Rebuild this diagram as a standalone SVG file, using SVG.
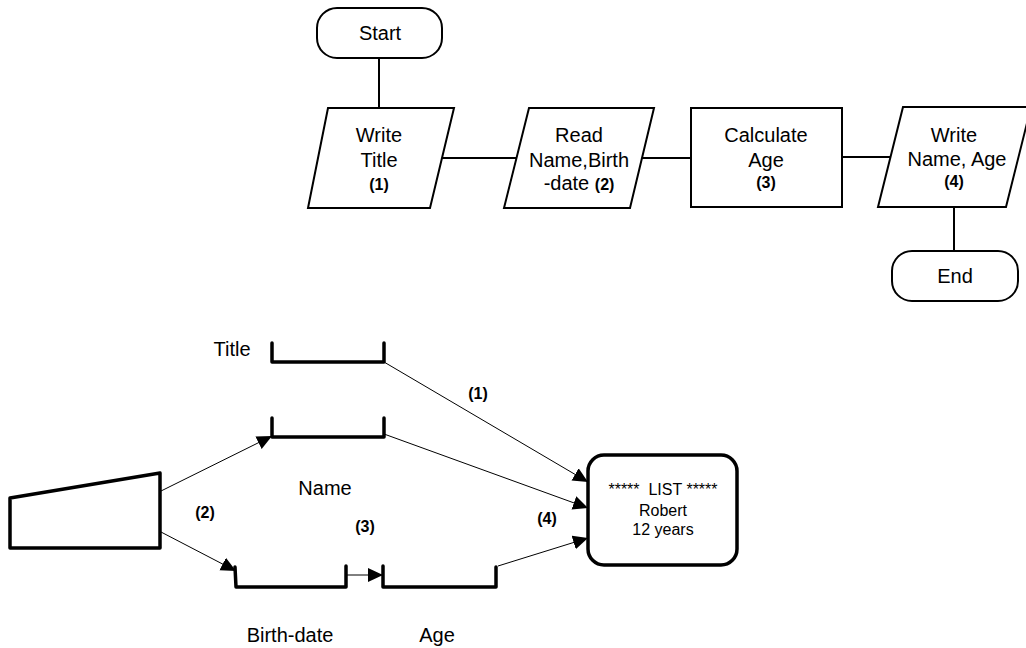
<svg xmlns="http://www.w3.org/2000/svg" width="1026" height="648" viewBox="0 0 1026 648">
<style>
text{font-family:"Liberation Sans",Arial,sans-serif;fill:#000}
.t{font-size:20px;text-anchor:middle}
.b{font-size:16px;font-weight:bold;text-anchor:middle}
.s{font-size:16px;text-anchor:middle;white-space:pre}
.fs{fill:#fff;stroke:#000;stroke-width:2}
.br{fill:none;stroke:#000;stroke-width:3.5;stroke-linejoin:round;stroke-linecap:round}
.ln{stroke:#000;stroke-width:2;fill:none}
.cn{stroke:#000;stroke-width:1;fill:none}
</style>
<defs>
<marker id="ah" markerUnits="userSpaceOnUse" markerWidth="16" markerHeight="16" viewBox="0 0 16 16" refX="15" refY="8" orient="auto">
<path d="M0,1 L15,8 L0,15 Z" fill="#000"/>
</marker>
</defs>
<g id="connectors">
<line class="ln" x1="379" y1="58" x2="379" y2="108"/>
<line class="ln" x1="442" y1="158" x2="516" y2="158"/>
<line class="ln" x1="642" y1="158" x2="691" y2="158"/>
<line class="ln" x1="842" y1="157" x2="890" y2="157"/>
<line class="ln" x1="954" y1="207" x2="954" y2="251"/>
<line class="cn" x1="384" y1="362" x2="588" y2="482" marker-end="url(#ah)"/>
<line class="cn" x1="384" y1="434" x2="588" y2="508" marker-end="url(#ah)"/>
<line class="cn" x1="498" y1="566" x2="588" y2="538" marker-end="url(#ah)"/>
<line class="cn" x1="161" y1="491" x2="272" y2="436" marker-end="url(#ah)"/>
<line class="cn" x1="161" y1="532" x2="236" y2="571" marker-end="url(#ah)"/>
<line class="cn" x1="347" y1="575" x2="383" y2="575" marker-end="url(#ah)"/>
<text class="b" x="478" y="399">(1)</text>
<text class="b" x="205" y="518">(2)</text>
<text class="b" x="365" y="532">(3)</text>
<text class="b" x="547" y="524">(4)</text>
</g>
<g id="start">
<rect class="fs" x="317" y="8" width="125" height="50" rx="20"/>
<text class="t" x="380" y="40">Start</text>
</g>
<g id="write-title">
<polygon class="fs" points="328,108 454,108 430,208 308,208"/>
<text class="t" x="379" y="142">Write</text>
<text class="t" x="379" y="167">Title</text>
<text class="b" x="379" y="190">(1)</text>
</g>
<g id="read">
<polygon class="fs" points="529,108 654,108 630,208 504,208"/>
<text class="t" x="579" y="142">Read</text>
<text class="t" x="579" y="167">Name,Birth</text>
<text class="t" x="579" y="190">-date <tspan style="font-size:16px;font-weight:bold">(2)</tspan></text>
</g>
<g id="calculate">
<rect class="fs" x="691" y="108" width="151" height="99"/>
<text class="t" x="766" y="142">Calculate</text>
<text class="t" x="766" y="167">Age</text>
<text class="b" x="766" y="188">(3)</text>
</g>
<g id="write-name-age">
<polygon class="fs" points="903,107 1031,107 1006,207 878,207"/>
<text class="t" x="954" y="142">Write</text>
<text class="t" x="957" y="166">Name, Age</text>
<text class="b" x="954" y="187">(4)</text>
</g>
<g id="end">
<rect class="fs" x="892" y="251" width="126" height="50" rx="20"/>
<text class="t" x="955" y="283">End</text>
</g>
<g id="title-store">
<path class="br" d="M272,343 L272,362 L384,362 L384,343"/>
<text class="t" x="232" y="356">Title</text>
</g>
<g id="name-store">
<path class="br" d="M272,418 L272,437 L384,437 L384,418"/>
<text class="t" x="325" y="495">Name</text>
</g>
<g id="keyboard">
<polygon class="br" points="10,498 160,473 160,548 10,548"/>
</g>
<g id="birthdate-store">
<path class="br" d="M235,567 L236,587 L346,587 L346,566"/>
<text class="t" x="290" y="642">Birth-date</text>
</g>
<g id="age-store">
<path class="br" d="M383,566 L383,587 L496,587 L496,567"/>
<text class="t" x="437" y="642">Age</text>
</g>
<g id="list-display">
<rect x="588" y="455" width="149" height="110" rx="16" fill="#fff" stroke="#000" stroke-width="3.5"/>
<text class="s" x="663" y="495">*****  LIST *****</text>
<text class="s" x="663" y="516">Robert</text>
<text class="s" x="663" y="535">12 years</text>
</g>
</svg>
